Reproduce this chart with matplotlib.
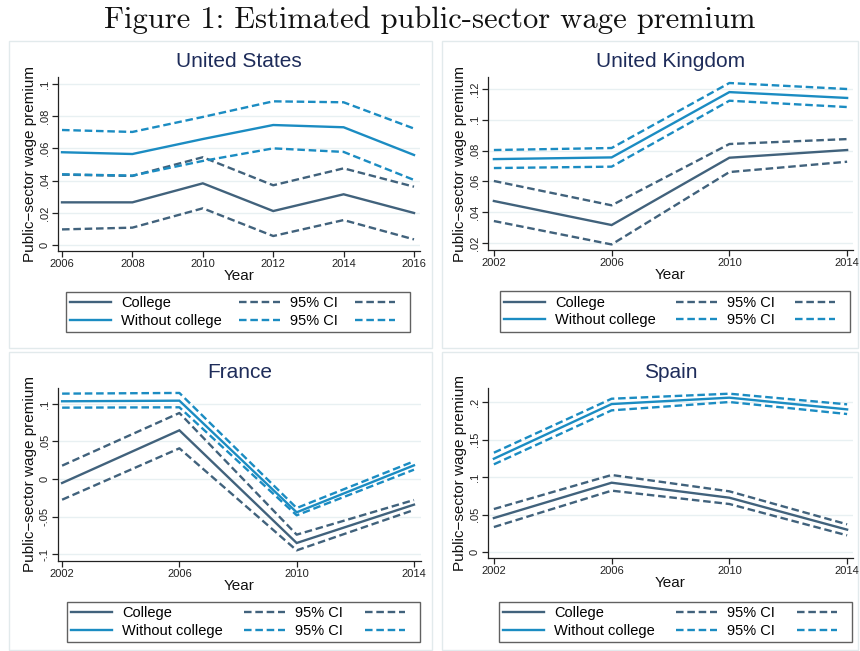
import matplotlib
matplotlib.use("Agg")
import matplotlib.pyplot as plt
from matplotlib.patches import Rectangle

# ---------------- data ----------------
countries = ["United States", "United Kingdom", "France", "Spain"]

us_years = [2006, 2008, 2010, 2012, 2014, 2016]
us_col = [0.0265, 0.0265, 0.0383, 0.0211, 0.0315, 0.0199]
us_col_hi = [0.0437, 0.0429, 0.0545, 0.0371, 0.0476, 0.0362]
us_col_lo = [0.0097, 0.0108, 0.0228, 0.0056, 0.0155, 0.0035]
us_nc = [0.0576, 0.0565, 0.0658, 0.0745, 0.0731, 0.0559]
us_nc_hi = [0.0714, 0.0702, 0.0795, 0.0892, 0.0886, 0.0723]
us_nc_lo = [0.0439, 0.0431, 0.0522, 0.0600, 0.0578, 0.0404]
us_yticks = [0, 0.02, 0.04, 0.06, 0.08, 0.1]
us_ylabels = ["0", ".02", ".04", ".06", ".08", ".1"]

eu_years = [2002, 2006, 2010, 2014]

uk_col = [0.0473, 0.0317, 0.0754, 0.0804]
uk_col_hi = [0.0603, 0.0445, 0.0843, 0.0875]
uk_col_lo = [0.0343, 0.0191, 0.0661, 0.0728]
uk_nc = [0.0745, 0.0756, 0.1180, 0.1142]
uk_nc_hi = [0.0804, 0.0817, 0.1239, 0.1200]
uk_nc_lo = [0.0687, 0.0696, 0.1124, 0.1083]
uk_yticks = [0.02, 0.04, 0.06, 0.08, 0.1, 0.12]
uk_ylabels = [".02", ".04", ".06", ".08", ".1", ".12"]

fr_col = [-0.0053, 0.0649, -0.0853, -0.0342]
fr_col_hi = [0.0178, 0.0880, -0.0742, -0.0280]
fr_col_lo = [-0.0276, 0.0409, -0.0951, -0.0413]
fr_nc = [0.1036, 0.1044, -0.0444, 0.0182]
fr_nc_hi = [0.1138, 0.1147, -0.0387, 0.0236]
fr_nc_lo = [0.0951, 0.0956, -0.0484, 0.0124]
fr_yticks = [-0.1, -0.05, 0, 0.05, 0.1]
fr_ylabels = ["-.1", "-.05", "0", ".05", ".1"]

es_col = [0.0453, 0.0924, 0.0724, 0.0298]
es_col_hi = [0.0573, 0.1027, 0.0809, 0.0369]
es_col_lo = [0.0333, 0.0818, 0.0640, 0.0222]
es_nc = [0.1244, 0.1973, 0.2058, 0.1902]
es_nc_hi = [0.1324, 0.2044, 0.2111, 0.1969]
es_nc_lo = [0.1169, 0.1889, 0.2000, 0.1840]
es_yticks = [0, 0.05, 0.1, 0.15, 0.2]
es_ylabels = ["0", ".05", ".1", ".15", ".2"]

legend_labels = ["College", "Without college", "95% CI", "95% CI", "", ""]

# ---------------- style ----------------
C_COL = "#41627C"
C_NC = "#1B8CC2"
C_GRID = "#E8F0F2"
C_BORDER = "#E2EAEC"
C_TITLE = "#1E2C5A"
SANS = ["Liberation Sans", "DejaVu Sans"]

W, H = 860, 651
fig = plt.figure(figsize=(W / 100, H / 100), dpi=100)
fig.patch.set_facecolor("white")


def fx(x):
    return x / W


def fy(y):
    return 1 - y / H


fig.text(0.5, fy(20), "Figure 1: Estimated public-sector wage premium",
         family="cmr10", fontsize=22, ha="center", va="center", color="#111111")

# panel boxes (pixel: x0, y0, x1, y1)
boxes = [(9, 41, 432, 348), (442, 41, 858, 348), (9, 352, 432, 650), (442, 352, 858, 650)]
for (x0, y0, x1, y1) in boxes:
    fig.patches.append(Rectangle((fx(x0), fy(y1)), fx(x1 - x0), (y1 - y0) / H,
                                 transform=fig.transFigure, facecolor="none",
                                 edgecolor=C_BORDER, linewidth=1.0, zorder=-5))

# axes rectangles in pixels: left, top, right, bottom
axes_px = [(58, 77, 420, 251), (488, 77, 853, 250), (58, 388, 421, 561), (488, 388, 853, 558)]
xlims = [(2005.886, 2016.17), (2001.8, 2014.2), (2001.86, 2014.24), (2001.8, 2014.2)]
ylims = [(-0.0037, 0.1043), (0.0155, 0.1278), (-0.1093, 0.1213), (-0.008, 0.2187)]
legend_px = [(66, 291, 410, 333), (500, 290, 850, 333), (67, 601, 420, 643), (499, 601, 852, 643)]

panels = [
    (us_years, us_col, us_col_hi, us_col_lo, us_nc, us_nc_hi, us_nc_lo, us_yticks, us_ylabels),
    (eu_years, uk_col, uk_col_hi, uk_col_lo, uk_nc, uk_nc_hi, uk_nc_lo, uk_yticks, uk_ylabels),
    (eu_years, fr_col, fr_col_hi, fr_col_lo, fr_nc, fr_nc_hi, fr_nc_lo, fr_yticks, fr_ylabels),
    (eu_years, es_col, es_col_hi, es_col_lo, es_nc, es_nc_hi, es_nc_lo, es_yticks, es_ylabels),
]

LW = 1.7
DASH = (3.2, 1.6)

for i, (years, col, col_hi, col_lo, nc, nc_hi, nc_lo, yt, yl) in enumerate(panels):
    l, t, r, b = axes_px[i]
    ax = fig.add_axes([fx(l), fy(b), fx(r - l), (b - t) / H])
    ax.patch.set_alpha(0)
    h1, = ax.plot(years, col, color=C_COL, lw=LW, solid_joinstyle="miter", zorder=4)
    h2, = ax.plot(years, nc, color=C_NC, lw=LW, solid_joinstyle="miter", zorder=4)
    h3, = ax.plot(years, col_hi, color=C_COL, lw=LW, dashes=DASH, zorder=3)
    h4, = ax.plot(years, nc_hi, color=C_NC, lw=LW, dashes=DASH, zorder=3)
    h5, = ax.plot(years, col_lo, color=C_COL, lw=LW, dashes=DASH, zorder=3)
    h6, = ax.plot(years, nc_lo, color=C_NC, lw=LW, dashes=DASH, zorder=3)

    ax.set_xlim(*xlims[i])
    ax.set_ylim(*ylims[i])
    ax.set_xticks(years)
    ax.set_xticklabels([str(y) for y in years], family=SANS, fontsize=8, color="#222222")
    ax.set_yticks(yt)
    ax.set_yticklabels(yl, family=SANS, fontsize=8, color="#222222",
                       rotation=90, va="center")
    ax.grid(axis="y", color=C_GRID, lw=1.0, zorder=0)
    ax.set_axisbelow(True)
    for s in ["top", "right"]:
        ax.spines[s].set_visible(False)
    for s in ["left", "bottom"]:
        ax.spines[s].set_color("#222222")
        ax.spines[s].set_linewidth(0.9)
    ax.tick_params(axis="both", length=4, width=0.9, color="#222222", pad=2)

    ax.set_title(countries[i], family=SANS, fontsize=15, color=C_TITLE, pad=7)
    ax.set_xlabel("Year", family=SANS, fontsize=11, color="#111111", labelpad=0)
    ax.set_ylabel("Public\u2212sector wage premium", family=SANS, fontsize=11,
                  color="#111111", labelpad=2)

    lx0, ly0, lx1, ly1 = legend_px[i]
    leg = ax.legend([h1, h2, h3, h4, h5, h6], legend_labels, ncol=3,
                    loc="center", bbox_to_anchor=(fx(lx0), fy(ly1), fx(lx1 - lx0), (ly1 - ly0) / H),
                    bbox_transform=fig.transFigure, mode="expand",
                    prop={"family": SANS, "size": 10.5}, frameon=True, fancybox=False,
                    handlelength=2.8, handletextpad=0.7, columnspacing=1.0,
                    labelspacing=0.25, borderpad=0.3, borderaxespad=0)
    fr = leg.get_frame()
    fr.set_edgecolor("#3a3a3a")
    fr.set_linewidth(1.0)

fig.savefig("out.png", dpi=100, facecolor="white")
